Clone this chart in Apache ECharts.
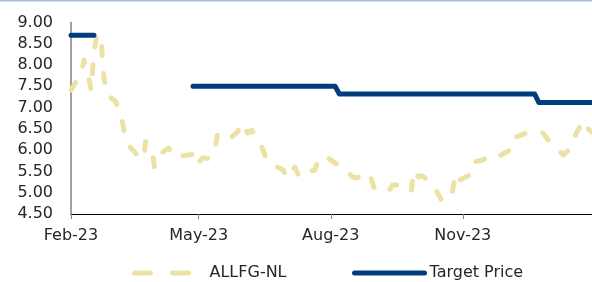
<!DOCTYPE html>
<html>
<head>
<meta charset="utf-8">
<script src="https://cdn.jsdelivr.net/npm/echarts@6/dist/echarts.min.js"></script>
<style>
  html, body { margin: 0; padding: 0; background: #fff; }
  #chart { width: 592px; height: 282px; }
</style>
</head>
<body>
<div id="chart"></div>
<script>
// share price (dashed)
const priceDates = [
  "2023-02-01", "2023-02-04", "2023-02-08", "2023-02-10", "2023-02-13", "2023-02-15",
  "2023-02-17", "2023-02-19", "2023-02-22", "2023-02-23", "2023-02-24", "2023-02-26",
  "2023-03-04", "2023-03-08", "2023-03-10", "2023-03-13", "2023-03-18", "2023-03-21",
  "2023-03-24", "2023-03-25", "2023-03-30", "2023-03-31", "2023-04-05", "2023-04-10",
  "2023-04-13", "2023-04-17", "2023-04-22", "2023-04-27", "2023-04-29", "2023-05-04",
  "2023-05-08", "2023-05-12", "2023-05-14", "2023-05-21", "2023-05-24", "2023-05-28",
  "2023-06-01", "2023-06-04", "2023-06-07", "2023-06-11", "2023-06-14", "2023-06-18",
  "2023-06-25", "2023-06-29", "2023-07-01", "2023-07-07", "2023-07-10", "2023-07-14",
  "2023-07-21", "2023-07-23", "2023-07-26", "2023-07-30", "2023-08-04", "2023-08-12",
  "2023-08-16", "2023-08-19", "2023-08-28", "2023-08-31", "2023-09-10", "2023-09-13",
  "2023-09-17", "2023-09-26", "2023-09-28", "2023-10-01", "2023-10-03", "2023-10-10",
  "2023-10-14", "2023-10-17", "2023-10-21", "2023-10-24", "2023-10-27", "2023-10-30",
  "2023-11-06", "2023-11-08", "2023-11-15", "2023-11-19", "2023-11-24", "2023-12-04",
  "2023-12-06", "2023-12-17", "2023-12-22", "2023-12-27", "2024-01-02", "2024-01-10",
  "2024-01-16", "2024-01-19", "2024-01-24", "2024-01-28", "2024-01-31"
];
const priceValues = [
  7.41, 7.58, 7.77, 8.12, 7.77, 7.41,
  8.30, 8.72, 8.65, 8.10, 7.70, 7.30,
  7.15, 6.80, 6.45, 6.12, 5.93, 5.77,
  5.93, 6.20, 5.93, 5.60, 5.93, 6.05,
  5.84, 5.86, 5.88, 5.90, 5.65, 5.82,
  5.80, 5.96, 6.36, 6.43, 6.31, 6.43,
  6.64, 6.40, 6.47, 6.25, 6.07, 5.72,
  5.60, 5.53, 5.35, 5.60, 5.37, 5.49,
  5.53, 5.77, 5.72, 5.82, 5.70, 5.53,
  5.37, 5.35, 5.46, 5.13, 5.02, 5.18,
  5.18, 5.02, 5.53, 5.37, 5.40, 5.25,
  5.02, 4.83, 4.87, 4.87, 5.46, 5.30,
  5.42, 5.72, 5.77, 5.86, 5.82, 6.00,
  6.28, 6.43, 6.43, 6.40, 6.12, 5.89,
  6.07, 6.40, 6.70, 6.47, 6.40
];

// target price (step line, gap in spring)
const targetDates = [
  "2023-02-01", "2023-02-17", "2023-02-18", "2023-04-27", "2023-08-04",
  "2023-08-07", "2023-12-21", "2023-12-24", "2024-01-31"
];
const targetValues = [8.70, 8.70, null, 7.50, 7.50, 7.32, 7.32, 7.12, 7.12];

const tickDates = ["2023-02-01", "2023-05-01", "2023-08-01", "2023-11-01"];
const monthNames = ["Jan", "Feb", "Mar", "Apr", "May", "Jun", "Jul", "Aug", "Sep", "Oct", "Nov", "Dec"];

const toTime = (s) => {
  const p = s.split("-");
  return new Date(+p[0], +p[1] - 1, +p[2]).getTime();
};
const tickValues = tickDates.map(toTime);

const priceData = priceDates.map((d, i) => [toTime(d), priceValues[i]]);
const targetData = targetDates.map((d, i) => [toTime(d), targetValues[i]]);

const FONT = "DejaVu Sans";
const TEXT = "#262626";
const KHAKI = "#ede2a6";
const NAVY = "#003d7c";

const myChart = echarts.init(document.getElementById("chart"));
const option = {
  animation: false,
  grid: { left: 71, right: 0, top: 22.5, bottom: 68 },
  graphic: [{
    type: "line",
    shape: { x1: 0, y1: 0.75, x2: 592, y2: 0.75 },
    style: { stroke: "#a9bcd5", lineWidth: 1.5 }
  }],
  legend: [
    {
      data: ["ALLFG-NL"],
      left: 132, top: 265, padding: 0,
      itemWidth: 56, itemHeight: 14,
      itemStyle: { opacity: 0 },
      lineStyle: { color: KHAKI, width: 5, type: [16, 22], cap: "round" },
      textStyle: { fontFamily: FONT, fontSize: 16, color: TEXT, padding: [0, 0, 0, 14] }
    },
    {
      data: ["Target Price"],
      left: 352, top: 265, padding: 0,
      itemWidth: 70, itemHeight: 14,
      itemStyle: { opacity: 0 },
      lineStyle: { color: NAVY, width: 5, cap: "round" },
      textStyle: { fontFamily: FONT, fontSize: 16, color: TEXT }
    }
  ],
  xAxis: {
    type: "value",
    min: toTime("2023-02-01"),
    max: toTime("2024-01-30"),
    axisLine: { lineStyle: { color: "#000", width: 1 } },
    axisTick: {
      show: true, length: 5, customValues: tickValues,
      lineStyle: { color: "#808080" }
    },
    axisLabel: {
      customValues: tickValues,
      margin: 14,
      fontFamily: FONT, fontSize: 16, color: TEXT,
      formatter: function (v) {
        const d = new Date(v);
        return monthNames[d.getMonth()] + "-" + String(d.getFullYear()).slice(2);
      }
    },
    splitLine: { show: false }
  },
  yAxis: {
    type: "value",
    min: 4.5,
    max: 9,
    interval: 0.5,
    axisLine: { show: true, lineStyle: { color: "#808080", width: 1.5 } },
    axisTick: { show: false },
    splitLine: { show: false },
    axisLabel: {
      margin: 18,
      fontFamily: FONT, fontSize: 16, color: TEXT,
      formatter: (v) => v.toFixed(2)
    }
  },
  series: [
    {
      name: "ALLFG-NL",
      type: "line",
      data: priceData,
      symbol: "none",
      color: KHAKI,
      lineStyle: { color: KHAKI, width: 5, type: [9, 18], cap: "round", join: "round" }
    },
    {
      name: "Target Price",
      type: "line",
      data: targetData,
      symbol: "none",
      connectNulls: false,
      color: NAVY,
      lineStyle: { color: NAVY, width: 5, cap: "round", join: "round" }
    }
  ]
};
// 绘制图表
myChart.setOption(option);
</script>
</body>
</html>
